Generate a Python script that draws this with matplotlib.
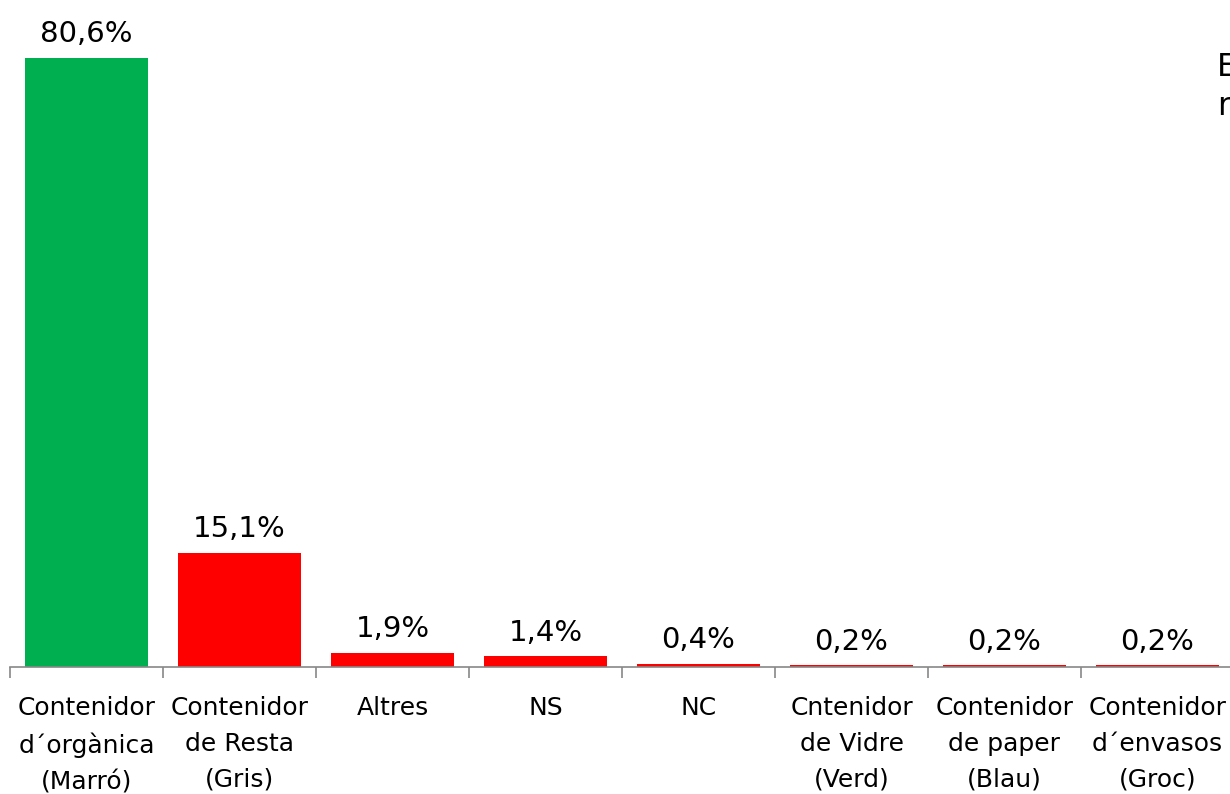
import matplotlib.pyplot as plt
from matplotlib.ticker import FixedLocator

categories = [
    "Contenidor\nd´orgànica\n(Marró)",
    "Contenidor\nde Resta\n(Gris)",
    "Altres",
    "NS",
    "NC",
    "Cntenidor\nde Vidre\n(Verd)",
    "Contenidor\nde paper\n(Blau)",
    "Contenidor\nd´envasos\n(Groc)",
]
values = [80.6, 15.1, 1.9, 1.4, 0.4, 0.2, 0.2, 0.2]
labels = ["80,6%", "15,1%", "1,9%", "1,4%", "0,4%", "0,2%", "0,2%", "0,2%"]
colors = ["#00B050"] + ["#FF0000"] * 7

fig = plt.figure(figsize=(12.3, 7.94), dpi=100)
# axes runs a bit past the right edge, like the cropped original
ax = fig.add_axes([10 / 1230, 127 / 794, 1224 / 1230, 640 / 794])

x = range(len(values))
ax.bar(x, values, width=0.8, color=colors)
for i, (v, lab) in enumerate(zip(values, labels)):
    ax.text(i, v + 1.3, lab, ha="center", va="bottom", fontsize=21)

ax.set_xlim(-0.5, len(values) - 0.5)
ax.set_ylim(0, 84.7)
ax.set_yticks([])
for s in ["left", "right", "top"]:
    ax.spines[s].set_visible(False)
ax.spines["bottom"].set_color("#888888")
ax.spines["bottom"].set_linewidth(1.2)

ax.set_xticks(list(x))
ax.set_xticklabels(categories, fontsize=18, linespacing=1.62)
ax.tick_params(axis="x", which="major", length=0, pad=21)
ax.xaxis.set_minor_locator(FixedLocator([i - 0.5 for i in range(len(values) + 1)]))
ax.tick_params(axis="x", which="minor", length=8, color="#888888", width=1.2)

fig.text(1217 / 1230, 1 - 122 / 794, "E\nr", fontsize=23, ha="left", va="bottom",
         linespacing=1.35)

fig.savefig("out.png", dpi=100)
